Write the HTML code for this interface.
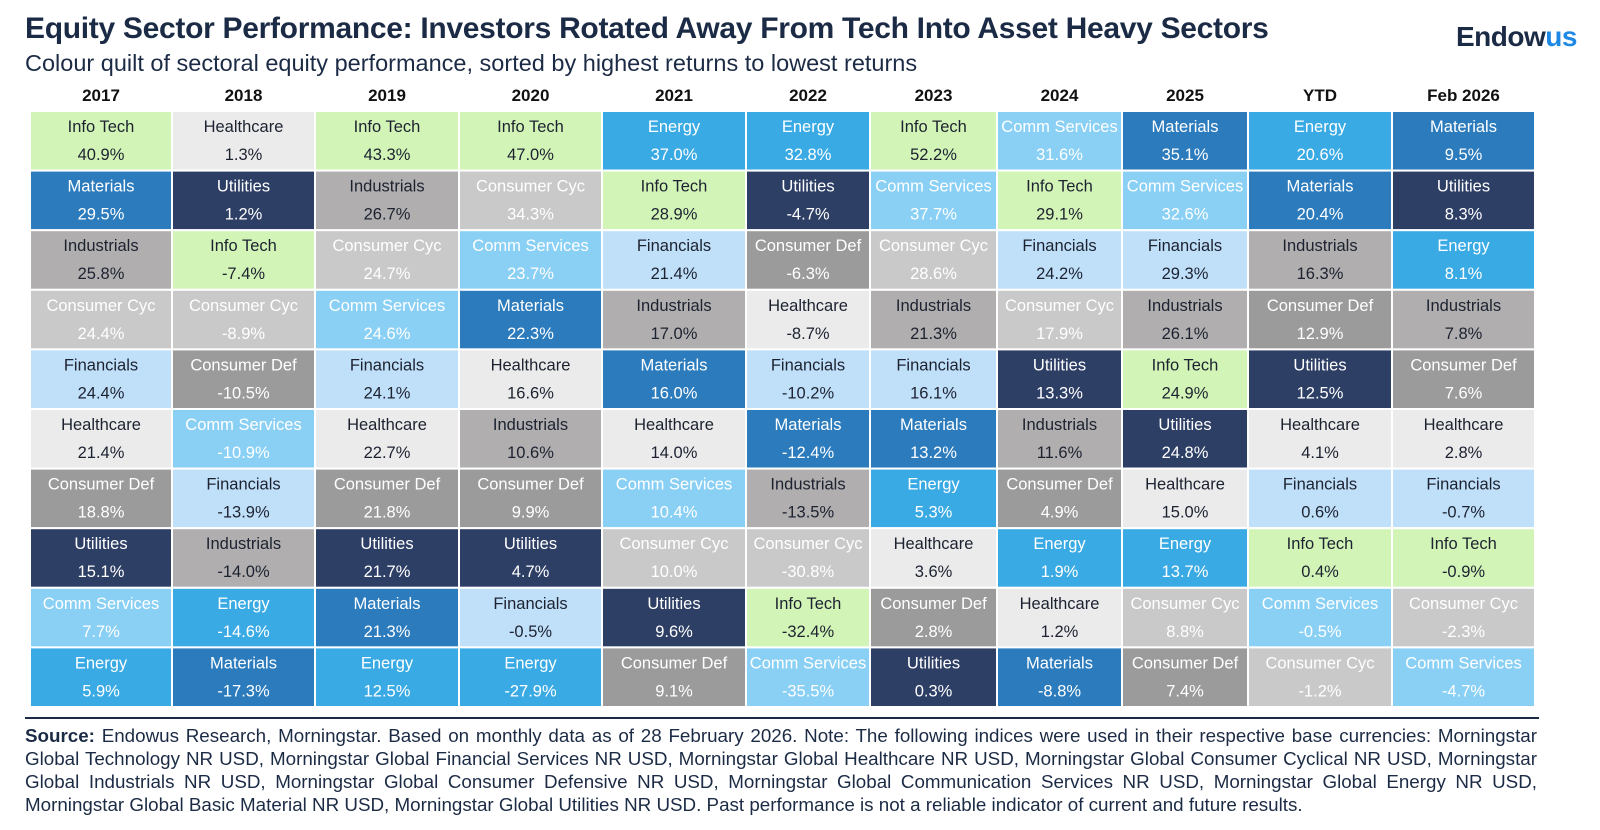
<!DOCTYPE html>
<html><head><meta charset="utf-8"><style>
body{margin:0;background:#fff;width:1600px;height:830px;overflow:hidden;font-family:"Liberation Sans",sans-serif;}
#title{position:absolute;left:25px;top:12px;font-size:30px;font-weight:bold;color:#1c2b45;letter-spacing:-0.3px;white-space:nowrap;}
#subtitle{position:absolute;left:25px;top:50px;font-size:23.5px;color:#1c2b45;white-space:nowrap;}
#logo{position:absolute;left:1456px;top:21px;font-size:28px;font-weight:bold;color:#1c2b45;letter-spacing:-0.5px;}
#logo span{color:#1e88e5;}
#note{position:absolute;left:25px;top:724px;width:1512px;font-size:18.8px;line-height:23px;color:#1c2b45;}
#note div{text-align:justify;text-align-last:justify;white-space:nowrap;}
#note div.last{text-align-last:left;}
svg{position:absolute;left:0;top:0;}
</style></head><body>
<div id="title">Equity Sector Performance: Investors Rotated Away From Tech Into Asset Heavy Sectors</div>
<div id="subtitle">Colour quilt of sectoral equity performance, sorted by highest returns to lowest returns</div>
<div id="logo">Endow<span>us</span></div>
<svg id="chart" width="1600" height="830"></svg>
<div id="note">
<div><b>Source:</b> Endowus Research, Morningstar. Based on monthly data as of 28 February 2026. Note: The following indices were used in their respective base currencies: Morningstar</div>
<div>Global Technology NR USD, Morningstar Global Financial Services NR USD, Morningstar Global Healthcare NR USD, Morningstar Global Consumer Cyclical NR USD, Morningstar</div>
<div>Global Industrials NR USD, Morningstar Global Consumer Defensive NR USD, Morningstar Global Communication Services NR USD, Morningstar Global Energy NR USD,</div>
<div class="last">Morningstar Global Basic Material NR USD, Morningstar Global Utilities NR USD. Past performance is not a reliable indicator of current and future results.</div>
</div>
<script>
const periods=["2017","2018","2019","2020","2021","2022","2023","2024","2025","YTD","Feb 2026"];
const sectors2017=["Info Tech","Materials","Industrials","Consumer Cyc","Financials","Healthcare","Consumer Def","Utilities","Comm Services","Energy"];
const values2017=[40.9,29.5,25.8,24.4,24.4,21.4,18.8,15.1,7.7,5.9];
const sectors2018=["Healthcare","Utilities","Info Tech","Consumer Cyc","Consumer Def","Comm Services","Financials","Industrials","Energy","Materials"];
const values2018=[1.3,1.2,-7.4,-8.9,-10.5,-10.9,-13.9,-14.0,-14.6,-17.3];
const sectors2019=["Info Tech","Industrials","Consumer Cyc","Comm Services","Financials","Healthcare","Consumer Def","Utilities","Materials","Energy"];
const values2019=[43.3,26.7,24.7,24.6,24.1,22.7,21.8,21.7,21.3,12.5];
const sectors2020=["Info Tech","Consumer Cyc","Comm Services","Materials","Healthcare","Industrials","Consumer Def","Utilities","Financials","Energy"];
const values2020=[47.0,34.3,23.7,22.3,16.6,10.6,9.9,4.7,-0.5,-27.9];
const sectors2021=["Energy","Info Tech","Financials","Industrials","Materials","Healthcare","Comm Services","Consumer Cyc","Utilities","Consumer Def"];
const values2021=[37.0,28.9,21.4,17.0,16.0,14.0,10.4,10.0,9.6,9.1];
const sectors2022=["Energy","Utilities","Consumer Def","Healthcare","Financials","Materials","Industrials","Consumer Cyc","Info Tech","Comm Services"];
const values2022=[32.8,-4.7,-6.3,-8.7,-10.2,-12.4,-13.5,-30.8,-32.4,-35.5];
const sectors2023=["Info Tech","Comm Services","Consumer Cyc","Industrials","Financials","Materials","Energy","Healthcare","Consumer Def","Utilities"];
const values2023=[52.2,37.7,28.6,21.3,16.1,13.2,5.3,3.6,2.8,0.3];
const sectors2024=["Comm Services","Info Tech","Financials","Consumer Cyc","Utilities","Industrials","Consumer Def","Energy","Healthcare","Materials"];
const values2024=[31.6,29.1,24.2,17.9,13.3,11.6,4.9,1.9,1.2,-8.8];
const sectors2025=["Materials","Comm Services","Financials","Industrials","Info Tech","Utilities","Healthcare","Energy","Consumer Cyc","Consumer Def"];
const values2025=[35.1,32.6,29.3,26.1,24.9,24.8,15.0,13.7,8.8,7.4];
const sectorsYTD=["Energy","Materials","Industrials","Consumer Def","Utilities","Healthcare","Financials","Info Tech","Comm Services","Consumer Cyc"];
const valuesYTD=[20.6,20.4,16.3,12.9,12.5,4.1,0.6,0.4,-0.5,-1.2];
const sectorsFeb=["Materials","Utilities","Energy","Industrials","Consumer Def","Healthcare","Financials","Info Tech","Consumer Cyc","Comm Services"];
const valuesFeb=[9.5,8.3,8.1,7.8,7.6,2.8,-0.7,-0.9,-2.3,-4.7];

const allSectors=[sectors2017,sectors2018,sectors2019,sectors2020,sectors2021,sectors2022,sectors2023,sectors2024,sectors2025,sectorsYTD,sectorsFeb];
const allValues=[values2017,values2018,values2019,values2020,values2021,values2022,values2023,values2024,values2025,valuesYTD,valuesFeb];

const style={
 "Info Tech":["#d3f4b7","#1c2230"],"Healthcare":["#ebebeb","#1c2230"],"Materials":["#2b7bbd","#fff"],
 "Utilities":["#2e3f66","#fff"],"Industrials":["#b0aeae","#1c2230"],"Consumer Cyc":["#c9c9c9","#fff"],
 "Comm Services":["#8ad0f5","#fff"],"Financials":["#c0e0fa","#1c2230"],"Consumer Def":["#9b9b9b","#fff"],"Energy":["#3aaae4","#fff"]};
const edges=[30,172,315,459,602,746,870,997,1122,1248,1392,1535];
const top0=111,rowH=59.6;
const svg=document.getElementById('chart');
const NS="http://www.w3.org/2000/svg";
function mk(t,a){const e=document.createElementNS(NS,t);for(const k in a)e.setAttribute(k,a[k]);return e;}
periods.forEach((p,c)=>{
 const x0=edges[c],w=edges[c+1]-edges[c],cx=x0+w/2;
 const h=mk('text',{x:cx,y:101,'text-anchor':'middle','font-size':17,'font-weight':'bold',fill:'#111','font-family':'Liberation Sans, sans-serif'});
 
 
 h.textContent=p;svg.appendChild(h);
 allSectors[c].forEach((s,r)=>{
  const y=top0+r*rowH;const st=style[s];
  const g=mk('g',{});
  
  
  g.appendChild(mk('rect',{x:x0,y:y,width:w,height:rowH,fill:st[0],stroke:'#fff','stroke-width':2}));
  const t1=mk('text',{x:cx,y:y+21,'text-anchor':'middle','font-size':16.5,fill:st[1],'font-family':'Liberation Sans, sans-serif'});
  t1.textContent=s;g.appendChild(t1);
  const t2=mk('text',{x:cx,y:y+49,'text-anchor':'middle','font-size':16.5,fill:st[1],'font-family':'Liberation Sans, sans-serif'});
  t2.textContent=allValues[c][r].toFixed(1)+'%';g.appendChild(t2);
  svg.appendChild(g);
 });
});
const ln=mk('line',{x1:25,y1:718,x2:1539,y2:718,stroke:'#1c2b45','stroke-width':2});


svg.appendChild(ln);
</script>
</body></html>
